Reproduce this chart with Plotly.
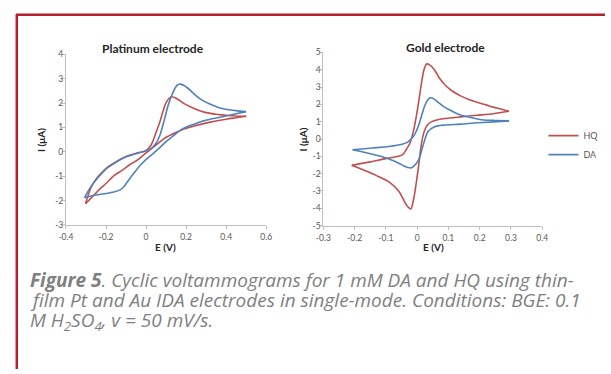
import plotly.graph_objects as go

W, H = 611, 374

# ---------------- data ----------------
# Platinum electrode, HQ
pt_hq_anodic_E = [-0.302, -0.29, -0.27, -0.25, -0.22, -0.19, -0.16, -0.12, -0.08, -0.04, 0.0, 0.026, 0.05, 0.067,
                  0.083, 0.10, 0.115, 0.128, 0.15, 0.19, 0.24, 0.29, 0.35, 0.40, 0.45, 0.50]
pt_hq_anodic_I = [-2.13, -1.80, -1.38, -1.12, -0.84, -0.62, -0.46, -0.27, -0.13, -0.04, 0.05, 0.29, 0.80, 1.18,
                  1.62, 2.02, 2.20, 2.26, 2.20, 1.98, 1.78, 1.63, 1.54, 1.50, 1.47, 1.46]
pt_hq_cathodic_E = [0.50, 0.45, 0.40, 0.32, 0.24, 0.172, 0.13, 0.09, 0.05, 0.0, -0.04, -0.08, -0.12, -0.16, -0.20,
                    -0.23, -0.27, -0.302]
pt_hq_cathodic_I = [1.46, 1.40, 1.34, 1.22, 1.06, 0.88, 0.72, 0.54, 0.28, -0.04, -0.32, -0.52, -0.76, -0.98, -1.30,
                    -1.52, -1.86, -2.13]

# Platinum electrode, DA
pt_da_anodic_E = [-0.307, -0.29, -0.258, -0.234, -0.193, -0.16, -0.112, -0.06, -0.015, 0.026, 0.05, 0.07, 0.091,
                  0.11, 0.13, 0.145, 0.16, 0.172, 0.19, 0.221, 0.25, 0.286, 0.33, 0.368, 0.41, 0.449, 0.498]
pt_da_anodic_I = [-1.88, -1.62, -1.24, -1.00, -0.66, -0.48, -0.24, -0.10, 0.00, 0.14, 0.35, 0.70, 1.30,
                  1.90, 2.35, 2.62, 2.76, 2.78, 2.72, 2.52, 2.30, 2.09, 1.92, 1.80, 1.73, 1.69, 1.65]
pt_da_cathodic_E = [0.498, 0.449, 0.40, 0.368, 0.32, 0.286, 0.25, 0.205, 0.17, 0.132, 0.10, 0.067, 0.035, 0.002,
                    -0.03, -0.063, -0.09, -0.112, -0.13, -0.161, -0.20, -0.234, -0.27, -0.307]
pt_da_cathodic_I = [1.65, 1.56, 1.47, 1.42, 1.34, 1.27, 1.16, 1.03, 0.88, 0.63, 0.42, 0.16, -0.07, -0.30,
                    -0.56, -0.90, -1.20, -1.44, -1.56, -1.65, -1.71, -1.75, -1.80, -1.88]

# Gold electrode, HQ
au_hq_anodic_E = [-0.209, -0.15, -0.10, -0.06, -0.045, -0.035, -0.022, -0.01, -0.001, 0.008, 0.015, 0.022, 0.03,
                  0.04, 0.056, 0.07, 0.088, 0.11, 0.139, 0.165, 0.192, 0.22, 0.244, 0.27, 0.294]
au_hq_anodic_I = [-1.52, -1.32, -1.13, -1.00, -0.88, -0.62, -0.20, 0.60, 1.46, 2.50, 3.34, 4.00, 4.33,
                  4.28, 3.99, 3.55, 3.15, 2.80, 2.49, 2.28, 2.12, 1.97, 1.84, 1.72, 1.60]
au_hq_cathodic_E = [0.294, 0.244, 0.192, 0.139, 0.088, 0.06, 0.046, 0.035, 0.025, 0.015, 0.004, -0.006, -0.012,
                    -0.02, -0.028, -0.038, -0.058, -0.09, -0.131, -0.173, -0.209]
au_hq_cathodic_I = [1.60, 1.46, 1.37, 1.28, 1.18, 1.08, 0.99, 0.85, 0.55, -0.15, -1.65, -2.94, -3.55,
                    -4.04, -3.95, -3.69, -3.03, -2.47, -2.10, -1.78, -1.52]

# Gold electrode, DA
au_da_anodic_E = [-0.206, -0.142, -0.09, -0.048, -0.03, -0.01, 0.005, 0.015, 0.025, 0.035, 0.043, 0.055, 0.067,
                  0.085, 0.108, 0.13, 0.16, 0.19, 0.213, 0.25, 0.294]
au_da_anodic_I = [-0.62, -0.52, -0.43, -0.30, -0.18, 0.20, 0.80, 1.40, 1.95, 2.28, 2.38, 2.30, 2.12,
                  1.87, 1.65, 1.45, 1.28, 1.17, 1.10, 1.07, 1.05]
au_da_cathodic_E = [0.294, 0.244, 0.192, 0.139, 0.088, 0.056, 0.035, 0.02, 0.004, -0.012, -0.02, -0.03, -0.038,
                    -0.06, -0.09, -0.121, -0.163, -0.206]
au_da_cathodic_I = [1.05, 0.99, 0.94, 0.86, 0.81, 0.71, 0.43, -0.31, -1.25, -1.59, -1.67, -1.64, -1.59,
                    -1.38, -1.15, -0.98, -0.79, -0.62]

pt_x_ticks = [-0.4, -0.2, 0.0, 0.2, 0.4, 0.6]
pt_x_ticktext = ["-0.4", "-0.2", "0", "0.2", "0.4", "0.6"]
pt_y_ticks = [-3, -2, -1, 0, 1, 2, 3, 4]
pt_y_ticktext = ["-3", "-2", "-1", "0", "1", "2", "3", "4"]
au_x_ticks = [-0.3, -0.2, -0.1, 0.0, 0.1, 0.2, 0.3, 0.4]
au_x_ticktext = ["-0.3", "-0.2", "-0.1", "0", "0.1", "0.2", "0.3", "0.4"]
au_y_ticks = [-5, -4, -3, -2, -1, 0, 1, 2, 3, 4, 5]
au_y_ticktext = ["-5", "-4", "-3", "-2", "-1", "0", "1", "2", "3", "4", "5"]

series_names = ["HQ", "DA"]
series_colors = ["#c0504d", "#4f81bd"]

# ---------------- figure ----------------
FONT = "Lato"
TICK_FONT = dict(family=FONT, size=8.5, color="#595959")
AXIS_LINE = "#bfbfbf"

fig = go.Figure()

def add_loop(xa, ya, anodic_E, anodic_I, cath_E, cath_I, name, color, show):
    for i, (ex, iy) in enumerate([(anodic_E, anodic_I), (cath_E, cath_I)]):
        fig.add_trace(go.Scatter(
            x=ex, y=iy, mode="lines", name=name, legendgroup=name,
            showlegend=(show and i == 0),
            line=dict(color=color, width=1.6, shape="spline", smoothing=0.8),
            xaxis=xa, yaxis=ya, hoverinfo="skip"))

# Platinum (no legend)
add_loop("x", "y", pt_hq_anodic_E, pt_hq_anodic_I, pt_hq_cathodic_E, pt_hq_cathodic_I,
         series_names[0], series_colors[0], False)
add_loop("x", "y", pt_da_anodic_E, pt_da_anodic_I, pt_da_cathodic_E, pt_da_cathodic_I,
         series_names[1], series_colors[1], False)
# Gold (legend)
add_loop("x2", "y2", au_hq_anodic_E, au_hq_anodic_I, au_hq_cathodic_E, au_hq_cathodic_I,
         series_names[0], series_colors[0], True)
add_loop("x2", "y2", au_da_anodic_E, au_da_anodic_I, au_da_cathodic_E, au_da_cathodic_I,
         series_names[1], series_colors[1], True)

def px_x(p):
    return p / W

def px_y(p):
    return 1 - p / H

axis_common = dict(showgrid=False, zeroline=False, showline=True, linecolor=AXIS_LINE, linewidth=1,
                   ticks="outside", ticklen=3, tickcolor=AXIS_LINE, tickwidth=1,
                   tickfont=TICK_FONT, fixedrange=True)

fig.update_layout(
    width=W, height=H,
    margin=dict(l=0, r=0, t=0, b=0),
    paper_bgcolor="white", plot_bgcolor="white",
    font=dict(family=FONT),
    xaxis=dict(domain=[px_x(59.3), px_x(264.3)], range=[-0.4, 0.6], anchor="y",
               tickvals=pt_x_ticks, ticktext=pt_x_ticktext, ticklabelstandoff=1, **axis_common),
    yaxis=dict(domain=[px_y(226), px_y(50.7)], range=[-3, 4], anchor="x",
               tickvals=pt_y_ticks, ticktext=pt_y_ticktext, ticklabelstandoff=-3, **axis_common),
    xaxis2=dict(domain=[px_x(322.7), px_x(546.7)], range=[-0.3, 0.4], anchor="y2",
                tickvals=au_x_ticks, ticktext=au_x_ticktext, ticklabelstandoff=1, **axis_common),
    yaxis2=dict(domain=[px_y(226.7), px_y(48.7)], range=[-5, 5], anchor="x2",
                tickvals=au_y_ticks, ticktext=au_y_ticktext, ticklabelstandoff=-3, **axis_common),
    showlegend=True,
    legend=dict(x=px_x(548), y=px_y(144), xanchor="left", yanchor="middle",
                font=dict(family=FONT, size=9, color="#595959"),
                bgcolor="rgba(0,0,0,0)", tracegroupgap=0, itemwidth=30),
)

TITLE_FONT = dict(family=FONT, size=12, color="#262626")
LABEL_FONT = dict(family=FONT, size=10, color="#262626")
CAP_FONT = dict(family="Open Sans", size=19, color="#7f7f7f", style="italic")

annotations = [
    dict(text="<b>Platinum electrode</b>", x=px_x(148), y=px_y(45), font=TITLE_FONT),
    dict(text="<b>Gold electrode</b>", x=px_x(448), y=px_y(43.5), font=TITLE_FONT),
    dict(text="<b>I (μA)</b>", x=px_x(33), y=px_y(138.4), font=LABEL_FONT, textangle=-90),
    dict(text="<b>I (μA)</b>", x=px_x(302), y=px_y(138), font=LABEL_FONT, textangle=-90),
    dict(text="<b>E (V)</b>", x=px_x(161), y=px_y(249), font=LABEL_FONT),
    dict(text="<b>E (V)</b>", x=px_x(435), y=px_y(249), font=LABEL_FONT),
]
for a in annotations:
    a.update(xref="paper", yref="paper", showarrow=False, xanchor="center", yanchor="middle")
    fig.add_annotation(**a)

caption_lines = [
    "<b>Figure 5</b>. Cyclic voltammograms for 1 mM DA and HQ using thin-",
    "film Pt and Au IDA electrodes in single-mode. Conditions: BGE: 0.1",
    "M H<sub>2</sub>SO<sub>4</sub>, v = 50 mV/s.",
]
caption_y = [283, 303, 325]
for txt, yy in zip(caption_lines, caption_y):
    fig.add_annotation(text=txt, x=px_x(20), y=px_y(yy), xref="paper", yref="paper",
                       xanchor="left", yanchor="middle", showarrow=False, font=CAP_FONT, align="left")

# red frame (top and left)
BORDER = "#b5202e"
fig.add_shape(type="line", xref="paper", yref="paper", x0=px_x(8), x1=1.0, y0=px_y(10), y1=px_y(10),
              line=dict(color=BORDER, width=2.5))
fig.add_shape(type="line", xref="paper", yref="paper", x0=px_x(9), x1=px_x(9), y0=px_y(10), y1=0.0,
              line=dict(color=BORDER, width=2.5))

fig.write_html("out.html")
